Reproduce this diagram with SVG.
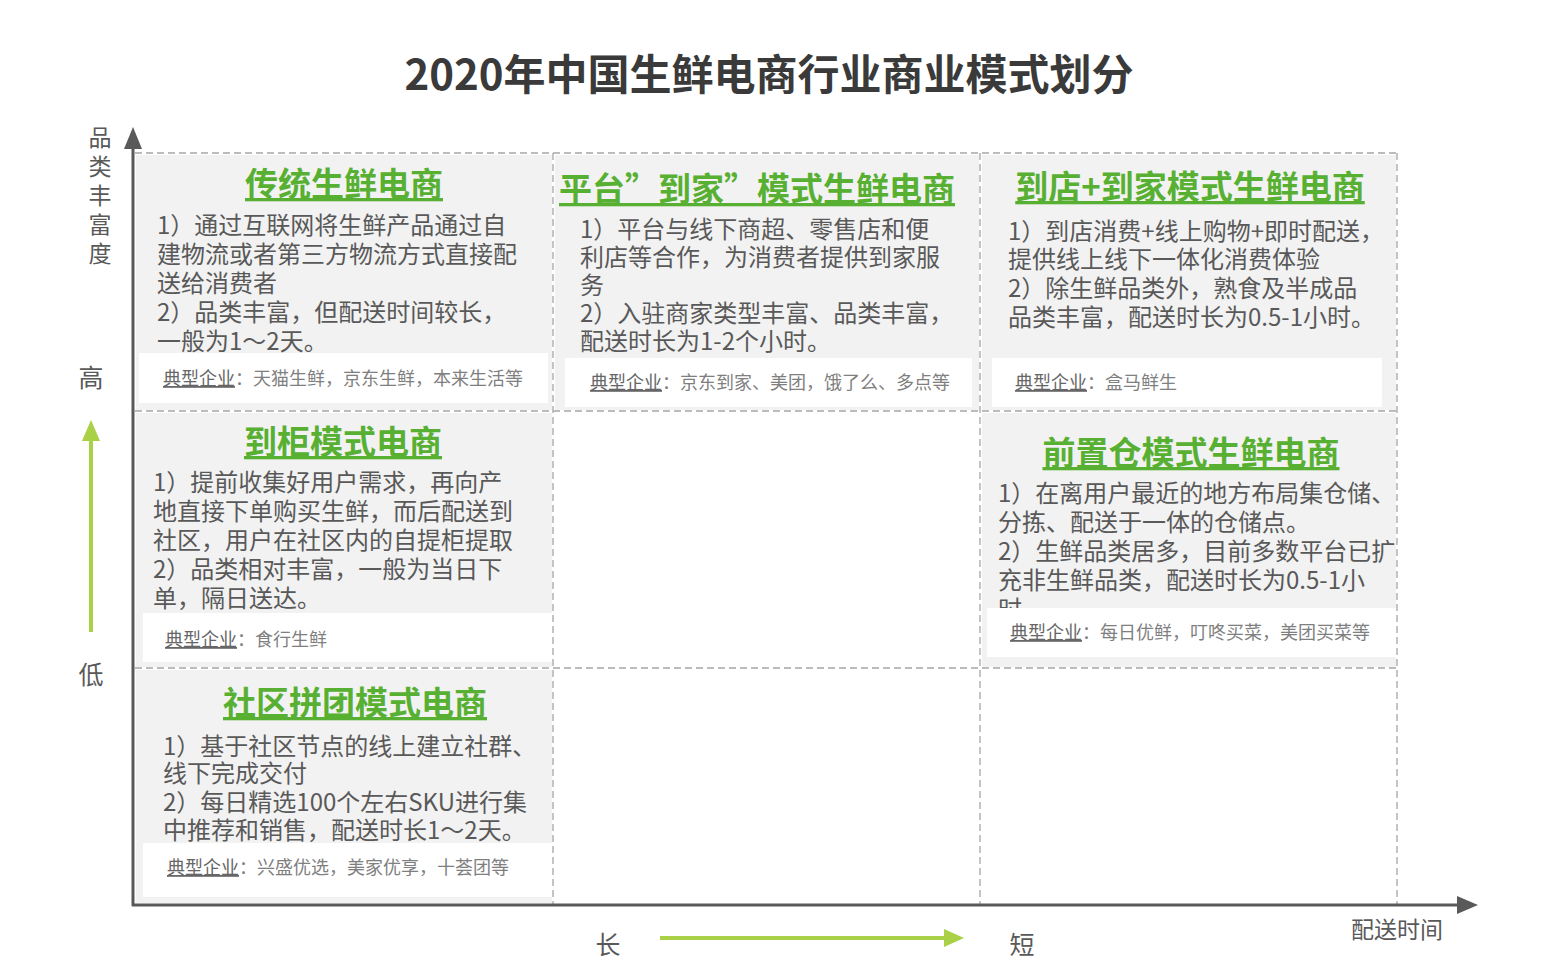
<svg xmlns="http://www.w3.org/2000/svg" width="1546" height="974" viewBox="0 0 1546 974">
<defs>
<style>
text{font-family:"Microsoft YaHei","Noto Sans CJK SC","Noto Sans",sans-serif;}
.title{font-size:42px;font-weight:bold;fill:#3a3a3a;}
.h{font-size:33px;font-weight:bold;fill:#58b032;text-decoration:underline;}
.b{font-size:24px;fill:#595959;}
.t{font-size:18px;fill:#7f7f7f;}
.u{text-decoration:underline;fill:#666666;}
.ax{font-size:23px;fill:#595959;}
.bg{fill:#f2f2f2;}
.wb{fill:#ffffff;}
.grid{stroke:#a6a6a6;stroke-width:1.3;stroke-dasharray:7 4;fill:none;}
.axis{stroke:#595959;stroke-width:3;fill:none;}
.ga{stroke:#a9d046;stroke-width:4;fill:none;}
</style>
</defs>
<rect x="0" y="0" width="1546" height="974" fill="#ffffff"/>
<text class="title" x="769" y="90" text-anchor="middle">2020年中国生鲜电商行业商业模式划分</text>

<g id="cell-traditional">
<rect class="bg" x="136" y="155" width="416" height="255"/>
<text class="h" x="344" y="196" text-anchor="middle">传统生鲜电商</text>
<text class="b"><tspan x="157" y="234">1）通过互联网将生鲜产品通过自</tspan><tspan x="157" y="263">建物流或者第三方物流方式直接配</tspan><tspan x="157" y="292">送给消费者</tspan><tspan x="157" y="321">2）品类丰富，但配送时间较长，</tspan><tspan x="157" y="350">一般为1～2天。</tspan></text>
<rect class="wb" x="139" y="353" width="409" height="50"/>
<text class="t" x="163" y="385"><tspan class="u">典型企业</tspan>：天猫生鲜，京东生鲜，本来生活等</text>
</g>

<g id="cell-platform">
<rect class="bg" x="555" y="155" width="424" height="255"/>
<text class="h" x="757" y="201" text-anchor="middle">平台”到家”模式生鲜电商</text>
<text class="b"><tspan x="580" y="238">1）平台与线下商超、零售店和便</tspan><tspan x="580" y="266">利店等合作，为消费者提供到家服</tspan><tspan x="580" y="294">务</tspan><tspan x="580" y="322">2）入驻商家类型丰富、品类丰富，</tspan><tspan x="580" y="350">配送时长为1-2个小时。</tspan></text>
<rect class="wb" x="565" y="358" width="407" height="49"/>
<text class="t" x="590" y="389"><tspan class="u">典型企业</tspan>：京东到家、美团，饿了么、多点等</text>
</g>

<g id="cell-store-home">
<rect class="bg" x="982" y="155" width="414" height="255"/>
<text class="h" x="1190" y="199" text-anchor="middle">到店+到家模式生鲜电商</text>
<text class="b"><tspan x="1008" y="240">1）到店消费+线上购物+即时配送，</tspan><tspan x="1008" y="268">提供线上线下一体化消费体验</tspan><tspan x="1008" y="297">2）除生鲜品类外，熟食及半成品</tspan><tspan x="1008" y="326">品类丰富，配送时长为0.5-1小时。</tspan></text>
<rect class="wb" x="992" y="358" width="390" height="49"/>
<text class="t" x="1015" y="389"><tspan class="u">典型企业</tspan>：盒马鲜生</text>
</g>

<g id="cell-locker">
<rect class="bg" x="136" y="413" width="416" height="254"/>
<text class="h" x="343" y="454" text-anchor="middle">到柜模式电商</text>
<text class="b"><tspan x="153" y="491">1）提前收集好用户需求，再向产</tspan><tspan x="153" y="520">地直接下单购买生鲜，而后配送到</tspan><tspan x="153" y="549">社区，用户在社区内的自提柜提取</tspan><tspan x="153" y="578">2）品类相对丰富，一般为当日下</tspan><tspan x="153" y="607">单，隔日送达。</tspan></text>
<rect class="wb" x="143" y="613" width="409" height="49"/>
<text class="t" x="165" y="646"><tspan class="u">典型企业</tspan>：食行生鲜</text>
</g>

<g id="cell-front-warehouse">
<rect class="bg" x="982" y="413" width="414" height="254"/>
<text class="h" x="1191" y="465" text-anchor="middle">前置仓模式生鲜电商</text>
<text class="b"><tspan x="998" y="502">1）在离用户最近的地方布局集仓储、</tspan><tspan x="998" y="531">分拣、配送于一体的仓储点。</tspan><tspan x="998" y="560">2）生鲜品类居多，目前多数平台已扩</tspan><tspan x="998" y="589">充非生鲜品类，配送时长为0.5-1小</tspan><tspan x="998" y="618">时</tspan></text>
<rect class="wb" x="987" y="608" width="409" height="49"/>
<text class="t" x="1010" y="639"><tspan class="u">典型企业</tspan>：每日优鲜，叮咚买菜，美团买菜等</text>
</g>

<g id="cell-group-buy">
<rect class="bg" x="136" y="670" width="416" height="233"/>
<text class="h" x="355" y="715" text-anchor="middle">社区拼团模式电商</text>
<text class="b"><tspan x="163" y="755">1）基于社区节点的线上建立社群、</tspan><tspan x="163" y="782">线下完成交付</tspan><tspan x="163" y="811">2）每日精选100个左右SKU进行集</tspan><tspan x="163" y="839">中推荐和销售，配送时长1～2天。</tspan></text>
<rect class="wb" x="143" y="843" width="410" height="54"/>
<text class="t" x="167" y="874"><tspan class="u">典型企业</tspan>：兴盛优选，美家优享，十荟团等</text>
</g>

<g id="grid">
<line class="grid" x1="135" y1="153" x2="1397" y2="153"/>
<line class="grid" x1="135" y1="411" x2="1397" y2="411"/>
<line class="grid" x1="135" y1="668" x2="1397" y2="668"/>
<line class="grid" x1="553" y1="153" x2="553" y2="904"/>
<line class="grid" x1="980" y1="153" x2="980" y2="904"/>
<line class="grid" x1="1397" y1="153" x2="1397" y2="904"/>
</g>

<g id="connectors">
<line class="axis" x1="133" y1="906" x2="133" y2="145"/>
<polygon points="133,127 124,149 142,149" fill="#595959"/>
<line class="axis" x1="132" y1="905" x2="1460" y2="905"/>
<polygon points="1478,905 1457,896 1457,914" fill="#595959"/>
<line class="ga" x1="91" y1="632" x2="91" y2="438"/>
<polygon points="91,420 82,441 100,441" fill="#a9d046"/>
<line class="ga" x1="660" y1="938" x2="946" y2="938"/>
<polygon points="964,938 944,929 944,947" fill="#a9d046"/>
</g>

<g id="axis-labels">
<text class="ax" font-size="22" text-anchor="middle"><tspan x="100" y="146">品</tspan><tspan x="100" y="175">类</tspan><tspan x="100" y="204">丰</tspan><tspan x="100" y="233">富</tspan><tspan x="100" y="262">度</tspan></text>
<text class="ax" x="91" y="387" text-anchor="middle" style="font-size:25px">高</text>
<text class="ax" x="91" y="684" text-anchor="middle" style="font-size:25px">低</text>
<text class="ax" x="608" y="954" text-anchor="middle" style="font-size:25px">长</text>
<text class="ax" x="1022" y="954" text-anchor="middle" style="font-size:25px">短</text>
<text class="ax" x="1351" y="938" style="font-size:23px">配送时间</text>
</g>
</svg>
